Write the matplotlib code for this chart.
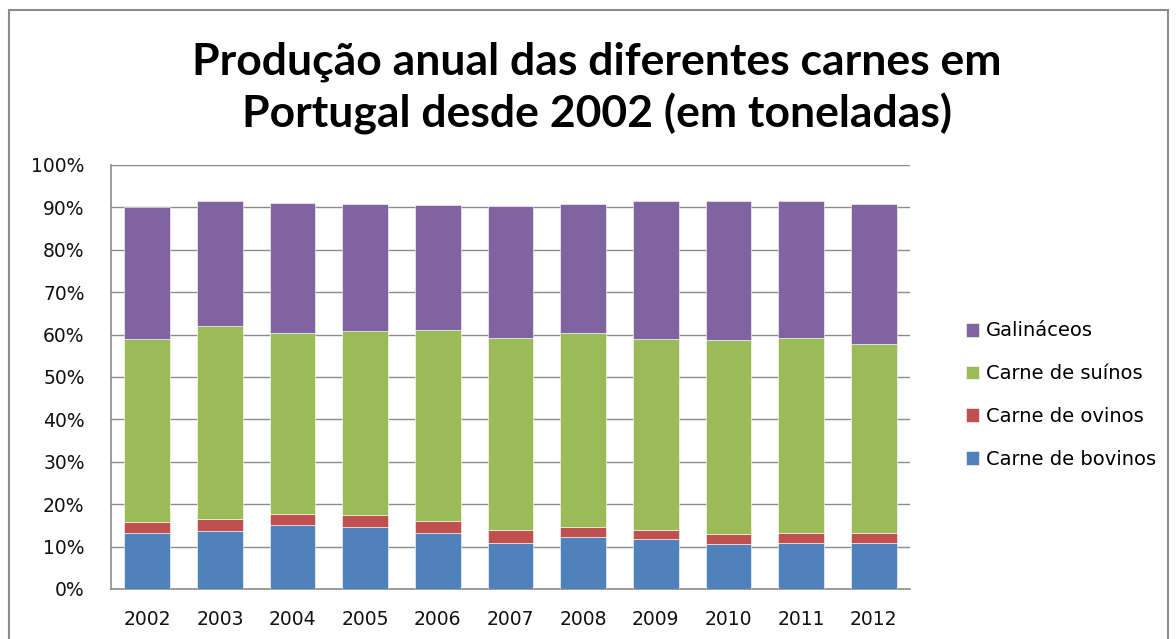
import numpy as np
import matplotlib
matplotlib.use("Agg")
import matplotlib.pyplot as plt
from matplotlib.patches import Rectangle

years = ["2002", "2003", "2004", "2005", "2006", "2007", "2008", "2009", "2010", "2011", "2012"]

# shares of total production (%)
bovinos = [13.1, 13.7, 15.0, 14.7, 13.1, 10.9, 12.3, 11.7, 10.7, 10.9, 10.9]
ovinos = [2.7, 2.9, 2.7, 2.8, 2.9, 3.0, 2.4, 2.2, 2.2, 2.2, 2.2]
suinos = [43.2, 45.4, 42.6, 43.3, 45.1, 45.4, 45.6, 45.1, 45.8, 46.2, 44.8]
galinaceos = [31.0, 29.4, 30.8, 30.0, 29.4, 31.0, 30.5, 32.4, 32.7, 32.3, 32.9]

series = [
    ("Carne de bovinos", bovinos, "#4f81bd"),
    ("Carne de ovinos", ovinos, "#c0504d"),
    ("Carne de suínos", suinos, "#9bbb59"),
    ("Galináceos", galinaceos, "#8064a2"),
]

plt.rcParams["font.family"] = ["DejaVu Sans"]

fig = plt.figure(figsize=(11.76, 6.39), dpi=100)
ax = fig.add_axes([111 / 1176, 1 - 589 / 639, (910 - 111) / 1176, (589 - 165) / 639])

x = np.arange(len(years))
bottom = np.zeros(len(years))
handles = []
for name, vals, col in series:
    vals = np.array(vals)
    h = ax.bar(x, vals, width=0.63, bottom=bottom, color=col,
               edgecolor="white", linewidth=0.4, label=name, zorder=3)
    handles.append(h)
    bottom += vals

ax.set_xlim(-0.5, len(years) - 0.5)
ax.set_ylim(0, 100)
ax.set_yticks(np.arange(0, 101, 10))
ax.set_yticklabels([f"{v}%" for v in range(0, 101, 10)])
ax.set_xticks(x)
ax.set_xticklabels(years)
ax.grid(axis="y", color="#8c8c8c", lw=1.0, zorder=0)
ax.tick_params(axis="both", length=0, labelsize=13.5, colors="#111111")
ax.tick_params(axis="x", pad=15)
ax.tick_params(axis="y", pad=19)
for s in ["top", "right"]:
    ax.spines[s].set_visible(False)
for s in ["left", "bottom"]:
    ax.spines[s].set_color("#8c8c8c")
    ax.spines[s].set_linewidth(1.2)

leg = fig.legend(handles[::-1], [s[0] for s in series][::-1],
                 loc="upper left", bbox_to_anchor=(948 / 1176, 1 - 304 / 639),
                 frameon=False, fontsize=14, handlelength=0.7, handleheight=0.7,
                 handletextpad=0.35, labelspacing=1.22)

fig.text(597 / 1176, 1 - 88 / 639,
         "Produção anual das diferentes carnes em\nPortugal desde 2002 (em toneladas)",
         ha="center", va="center", fontsize=32, fontweight="bold",
         family=["Lato", "DejaVu Sans"], linespacing=1.3)

fig.patches.append(Rectangle((9 / 1176, -0.1), (1168 - 9) / 1176, 1.1 - 10 / 639,
                             transform=fig.transFigure, fill=False,
                             edgecolor="#8c8c8c", lw=1.5))

fig.savefig("out.png", dpi=100)
